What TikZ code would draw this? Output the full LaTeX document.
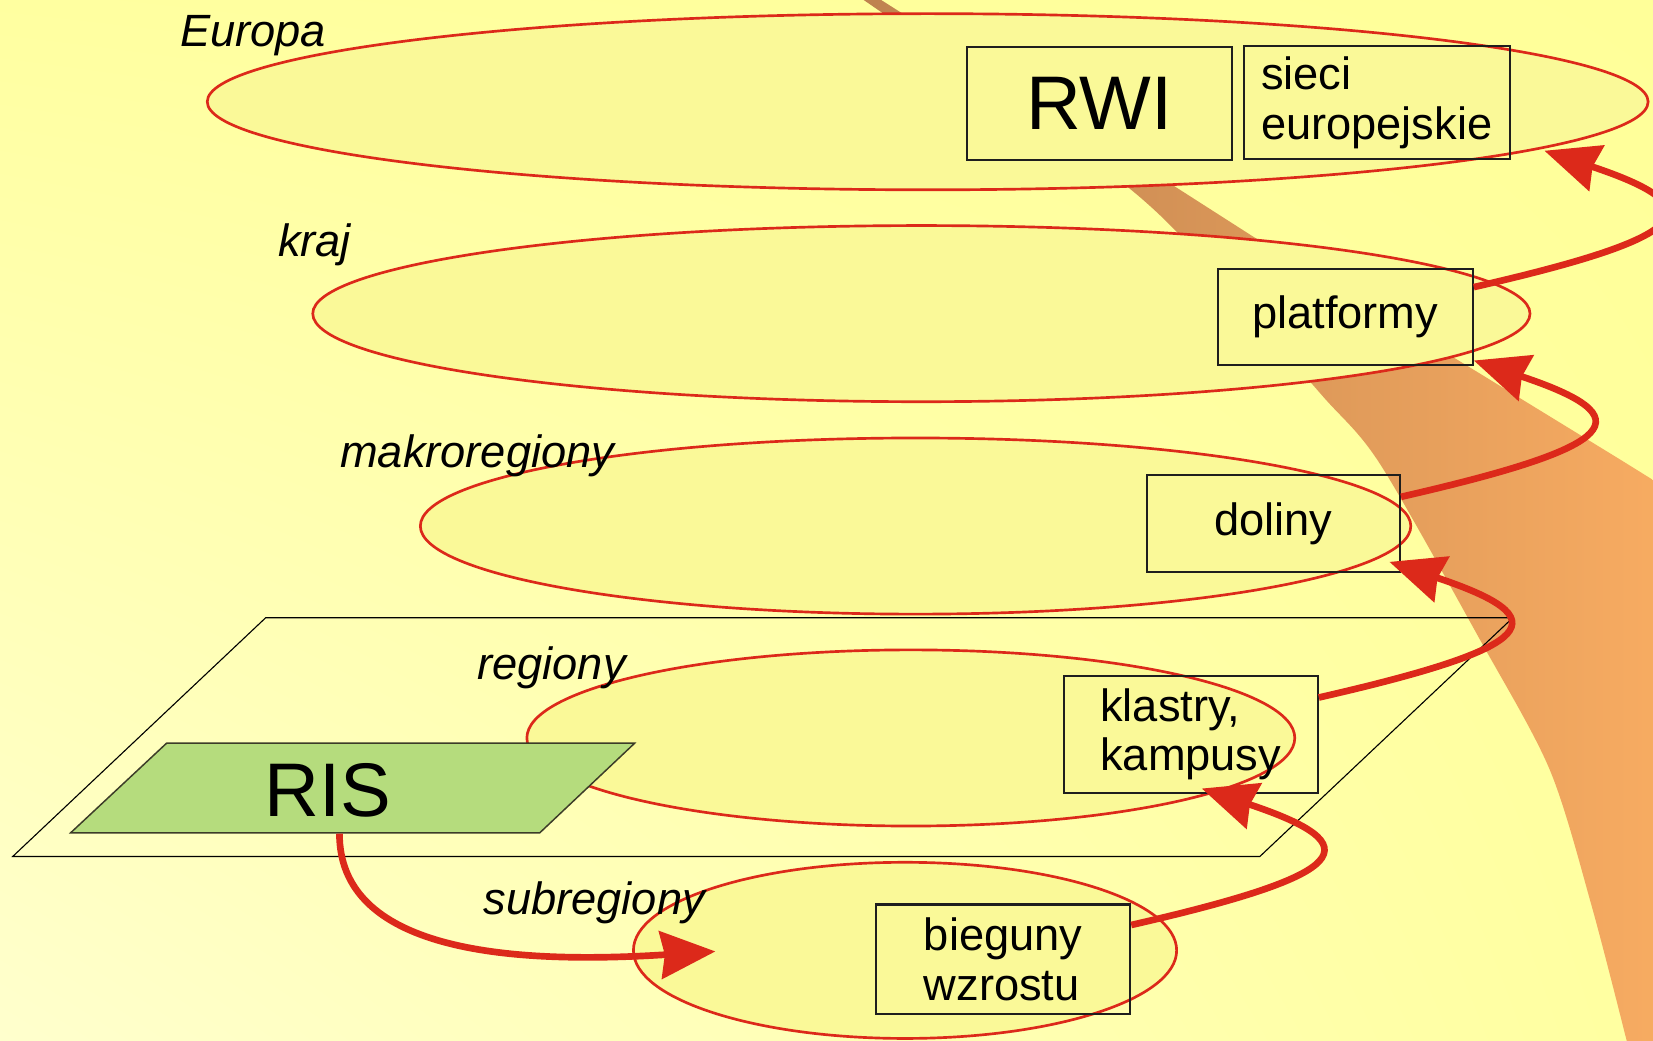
\documentclass[tikz,border=0pt]{standalone}
\usepackage{fontspec}
\setmainfont{Liberation Sans}
\usetikzlibrary{arrows.meta,shapes.geometric,calc,shadings}
\definecolor{czerwony}{RGB}{220,41,26}
\definecolor{zolty}{RGB}{250,249,152}
\definecolor{tloA}{RGB}{255,255,160}
\definecolor{tloB}{RGB}{255,255,153}
\definecolor{tloC}{RGB}{255,255,205}
\definecolor{tloD}{RGB}{255,255,160}
\definecolor{pasmoA}{RGB}{190,130,79}
\definecolor{pasmoB}{RGB}{252,175,99}
\definecolor{zielony}{RGB}{181,220,125}
\definecolor{ramkakolor}{RGB}{30,30,30}

\begin{document}
\begin{tikzpicture}[x=.01cm,y=-.01cm,line width=.45pt,
  elipsa/.style={ellipse,draw=czerwony,fill=zolty,line width=.72pt,inner sep=0pt,minimum height=1.67cm},
  ramka/.style={draw=ramkakolor,line width=.55pt,inner sep=0pt,font=\fontsize{12.2}{13.4}\selectfont},
  etykieta/.style={anchor=base west,inner sep=0pt,font=\fontsize{12.2}{13.4}\selectfont\itshape},
  strzalka/.style={draw=czerwony,line width=1.8pt,-{Stealth[length=.52cm,width=.45cm,inset=.04cm]}}]
\useasboundingbox (0,0) rectangle (1568,987);
\clip (0,0) rectangle (1568,987);
% Tlo: od bladozoltego (lewy dol) do zoltego.
\shade[upper left=tloA,upper right=tloB,lower left=tloC,lower right=tloD] (0,0) rectangle (1568,987);
% Pomaranczowe pasmo schodzace w prawo.
\shade[left color=pasmoA,right color=pasmoB] (812,-5) -- (828,-5) -- (1113,176) -- (1188,224)
      -- (1382,341) -- (1537,436) -- (1640,500) -- (1640,995)
      -- plot[smooth] coordinates {(1545,995) (1510,860) (1470,730) (1404,607) (1309,440)
      (1254,375) (1170,280) (1068,176) (812,-5)} -- cycle;
% Poziomy jako elipsy, od Europy do subregionow.
\node[elipsa,minimum width=13.66cm] (europa) at (880,96.5) {};
\node[elipsa,minimum width=11.54cm] (kraj) at (874,297.5) {};
\node[elipsa,minimum width=9.39cm] (makro) at (868.5,499) {};
\node[elipsa,minimum width=7.28cm] (region) at (864,700) {};
\node[elipsa,minimum width=5.15cm] (subreg) at (858.5,901.5) {};
% Plaszczyzna regionu i RIS.
\draw[line width=.3pt] (252,586) -- (1435,586) -- (1195,812.5) -- (12,812.5) -- cycle;
\filldraw[fill=zielony,draw={rgb,255:red,60;green,60;blue,40},line width=.4pt]
      (158,705) -- (602,705) -- (512,790) -- (67,790) -- cycle;
\node[inner sep=0pt,minimum height=.8cm,font=\fontsize{20.5}{24}\selectfont] (ris) at (311,750) {RIS};
% Ramki.
\node[ramka,minimum width=2.52cm,minimum height=1.07cm,font=\fontsize{20.5}{24}\selectfont] (rwi) at (1043,98.5) {RWI};
\node[ramka,minimum width=2.52cm,minimum height=1.07cm,align=left] (sieci) at (1306,97.5) {sieci\\europejskie};
\node[ramka,minimum width=2.42cm,minimum height=.91cm] (plat) at (1276,300.5) {platformy};
\node[ramka,minimum width=2.40cm,minimum height=.92cm] (dol) at (1208,497) {doliny};
\node[ramka,minimum width=2.41cm,minimum height=1.11cm,align=left] (klas) at (1129.5,696.5) {klastry,\\kampusy};
\node[ramka,minimum width=2.41cm,minimum height=1.04cm,align=left] (bieg) at (951.5,910) {bieguny\\wzrostu};
% Nazwy poziomow.
\node[etykieta] (tEuropa) at (170,44) {Europa};
\node[etykieta] (tKraj) at (263,243) {kraj};
\node[etykieta] (tMakro) at (322,443) {makroregiony};
\node[etykieta] (tRegion) at (452,645) {regiony};
\node[etykieta] (tSubreg) at (458,867) {subregiony};
% Strzalki: z RIS w dol, potem petle w gore.
\draw[strzalka] ([xshift=.11cm]ris.south) .. controls +(0,110) and +(-200,13) .. ($(subreg.west)+(79,1)$);
\draw[strzalka] (bieg.15) .. controls +(210,-48) and +(162,54) .. ($(klas.south east)+(-111,-5)$);
\draw[strzalka] (klas.16) .. controls +(210,-48) and +(162,54) .. ($(dol.south east)+(-11,-11)$);
\draw[strzalka] (dol.12) .. controls +(210,-48) and +(162,54) .. ($(plat.south east)+(0,-5)$);
\draw[strzalka] (plat.13) .. controls +(210,-48) and +(162,54) .. ($(sieci.south east)+(32,-9)$);
\end{tikzpicture}
\end{document}
